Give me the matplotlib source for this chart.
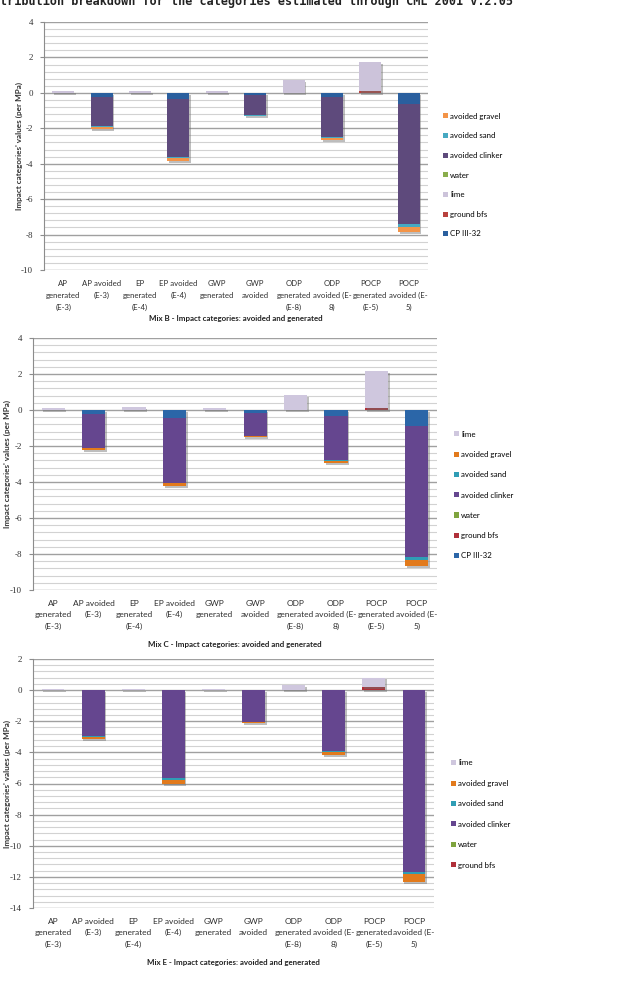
import matplotlib
matplotlib.use('Agg')
import matplotlib.pyplot as plt
import matplotlib.patheffects as pe
from matplotlib.patches import Patch
from matplotlib.ticker import MultipleLocator
import numpy as np

plt.rcParams['axes.unicode_minus'] = False

# Category labels (shared by the three mixes)
categories = ["AP\ngenerated\n(E-3)", "AP avoided\n(E-3)", "EP\ngenerated\n(E-4)",
              "EP avoided\n(E-4)", "GWP\ngenerated", "GWP\navoided",
              "ODP\ngenerated\n(E-8)", "ODP\navoided (E-\n8)",
              "POCP\ngenerated\n(E-5)", "POCP\navoided (E-\n5)"]

# Mix B
b_cp = [0, -0.22, 0, -0.32, 0, -0.10, 0, -0.22, 0, -0.64]
b_bfs = [0, 0, 0, 0, 0, 0, 0, 0, 0.10, 0]
b_lime = [0.12, 0, 0.12, 0, 0.12, 0, 0.70, 0, 1.62, 0]
b_water = [0, 0, 0, 0, 0, 0, 0, 0, 0, 0]
b_clinker = [0, -1.66, 0, -3.28, 0, -1.16, 0, -2.28, 0, -6.78]
b_sand = [0, -0.04, 0, -0.10, 0, -0.03, 0, -0.05, 0, -0.17]
b_gravel = [0, -0.11, 0, -0.15, 0, -0.04, 0, -0.12, 0, -0.28]

# Mix C
c_cp = [0, -0.22, 0, -0.43, 0, -0.15, 0, -0.32, 0, -0.87]
c_bfs = [0, 0, 0, 0, 0, 0, 0, 0, 0.10, 0]
c_lime = [0.10, 0, 0.15, 0, 0.10, 0, 0.82, 0, 2.07, 0]
c_water = [0, 0, 0, 0, 0, 0, 0, 0, 0, 0]
c_clinker = [0, -1.88, 0, -3.60, 0, -1.30, 0, -2.48, 0, -7.31]
c_sand = [0, -0.03, 0, -0.04, 0, -0.02, 0, -0.04, 0, -0.13]
c_gravel = [0, -0.07, 0, -0.13, 0, -0.03, 0, -0.09, 0, -0.35]

# Mix E (no CP III-32)
e_bfs = [0, 0, 0, 0, 0, 0, 0, 0, 0.19, 0]
e_lime = [0.05, 0, 0.05, 0, 0.05, 0, 0.30, 0, 0.62, 0]
e_water = [0, 0, 0, 0, 0, 0, 0, 0, 0, 0]
e_clinker = [0, -2.95, 0, -5.63, 0, -2.03, 0, -3.91, 0, -11.66]
e_sand = [0, -0.04, 0, -0.15, 0, -0.03, 0, -0.06, 0, -0.17]
e_gravel = [0, -0.15, 0, -0.25, 0, -0.08, 0, -0.20, 0, -0.51]

W, H = 617, 990
fig = plt.figure(figsize=(W / 100, H / 100), dpi=100)
fig.patch.set_facecolor('white')

LABEL_FONT = 'Lato'
TICK_FONT = 'Liberation Serif'

colors_b = {'CP III-32': '#2a5f9e', 'ground bfs': '#b8413d', 'lime': '#ccc3da',
            'water': '#8aad4c', 'avoided clinker': '#5e4a7c',
            'avoided sand': '#46a9c2', 'avoided gravel': '#f39448'}
colors_ce = {'CP III-32': '#2b66a8', 'ground bfs': '#b0303a', 'lime': '#cfc7de',
             'water': '#7fa43e', 'avoided clinker': '#65468f',
             'avoided sand': '#2f9db5', 'avoided gravel': '#e27a1c'}


def px_axes(left, right, top, bottom):
    return fig.add_axes([left / W, 1 - bottom / H, (right - left) / W, (bottom - top) / H])


def draw_mix(ax, series, colors, ylim, major, legend_order, legend_xy, legend_gap,
             caption, caption_y, ylabel_x, xlabel_size=6):
    x = np.arange(len(categories))
    pos = np.zeros(len(categories))
    neg = np.zeros(len(categories))
    shadow = [pe.SimplePatchShadow(offset=(1.2, -1.4), shadow_rgbFace='#6f6f6f', alpha=0.45), pe.Normal()]
    for name, vals in series:
        vals = np.array(vals, dtype=float)
        bottom = np.where(vals >= 0, pos, neg)
        bars = ax.bar(x, vals, 0.57, bottom=bottom, color=colors[name], linewidth=0, zorder=3)
        for b in bars:
            b.set_path_effects(shadow)
        pos = pos + np.clip(vals, 0, None)
        neg = neg + np.clip(vals, None, 0)

    ax.set_xlim(-0.5, len(categories) - 0.5)
    ax.set_ylim(*ylim)
    ax.yaxis.set_major_locator(MultipleLocator(major))
    ax.yaxis.set_minor_locator(MultipleLocator(major / 5))
    ax.grid(axis='y', which='major', color='#a0a0a0', linewidth=1.0, zorder=0)
    ax.grid(axis='y', which='minor', color='#d2d2d2', linewidth=0.8, zorder=0)
    ax.set_axisbelow(True)
    for s in ['top', 'right', 'bottom']:
        ax.spines[s].set_visible(False)
    ax.spines['left'].set_color('#8c8c8c')
    ax.tick_params(axis='y', which='major', length=3, color='#8c8c8c', pad=5,
                   labelsize=6.5, labelcolor='#333333')
    ax.tick_params(axis='y', which='minor', length=0)
    ax.tick_params(axis='x', length=0, pad=7)
    for t in ax.get_yticklabels():
        t.set_fontfamily(TICK_FONT)
    ax.set_xticks(x)
    ax.set_xticklabels(categories, fontsize=xlabel_size, fontfamily=LABEL_FONT,
                       color='#2e2e2e', linespacing=1.72 * 6 / xlabel_size)

    box = ax.get_position()
    fig.text(ylabel_x / W, box.y0 + box.height / 2,
             "Impact categories' values (per MPa)", rotation=90, ha='center', va='center',
             fontsize=5.9, fontweight='bold', fontfamily=LABEL_FONT, color='#333333')
    fig.text(box.x0 + box.width / 2, 1 - caption_y / H, caption,
             ha='center', va='center', fontsize=5.7, fontweight='bold',
             fontfamily=LABEL_FONT, color='#222222')

    handles = [Patch(facecolor=colors[n], edgecolor='none') for n in legend_order]
    ax.legend(handles, legend_order, loc='center left',
              bbox_to_anchor=(legend_xy[0] / W, 1 - legend_xy[1] / H),
              bbox_transform=fig.transFigure, frameon=False,
              prop={'family': LABEL_FONT, 'size': 5.7}, handlelength=0.6, handleheight=0.6,
              handletextpad=0.3, labelspacing=legend_gap, borderpad=0, borderaxespad=0)


# title (cut off at the top-left of the image)
fig.text(0, 1 - 4.5 / H,
         "tribution breakdown for the categories estimated through CML 2001 v.2.05",
         ha='left', va='baseline', fontsize=8.5, fontweight='bold',
         fontfamily='DejaVu Sans Mono', color='#222222')

ax1 = px_axes(44, 428, 22, 270)
draw_mix(ax1,
         [('CP III-32', b_cp), ('ground bfs', b_bfs), ('lime', b_lime), ('water', b_water),
          ('avoided clinker', b_clinker), ('avoided sand', b_sand), ('avoided gravel', b_gravel)],
         colors_b, (-10, 4), 2,
         ['avoided gravel', 'avoided sand', 'avoided clinker', 'water', 'lime', 'ground bfs', 'CP III-32'],
         (443, 175), 1.6, "Mix B - Impact categories: avoided and generated", 318, 19,
         xlabel_size=5.6)

ax2 = px_axes(33, 437, 338, 590)
draw_mix(ax2,
         [('CP III-32', c_cp), ('ground bfs', c_bfs), ('water', c_water),
          ('avoided clinker', c_clinker), ('avoided sand', c_sand), ('avoided gravel', c_gravel),
          ('lime', c_lime)],
         colors_ce, (-10, 4), 2,
         ['lime', 'avoided gravel', 'avoided sand', 'avoided clinker', 'water', 'ground bfs', 'CP III-32'],
         (454, 495), 1.68, "Mix C - Impact categories: avoided and generated", 644, 7)

ax3 = px_axes(33, 434, 659, 908)
draw_mix(ax3,
         [('ground bfs', e_bfs), ('water', e_water), ('avoided clinker', e_clinker),
          ('avoided sand', e_sand), ('avoided gravel', e_gravel), ('lime', e_lime)],
         colors_ce, (-14, 2), 2,
         ['lime', 'avoided gravel', 'avoided sand', 'avoided clinker', 'water', 'ground bfs'],
         (451, 814), 1.7, "Mix E - Impact categories: avoided and generated", 962, 7)

fig.savefig('out.png', dpi=100, facecolor='white')
